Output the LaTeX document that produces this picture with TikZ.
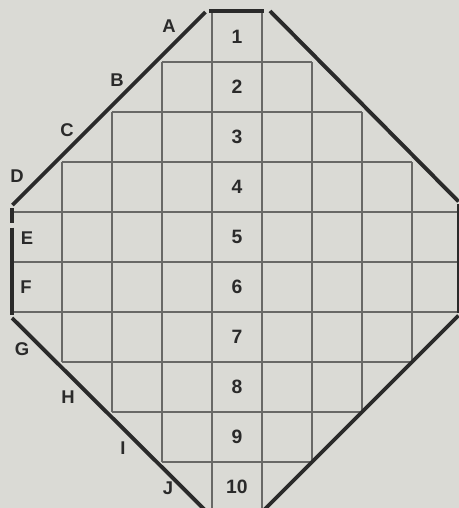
\documentclass[tikz,border=0pt]{standalone}
\usepackage{fontspec}
\setsansfont{Liberation Sans}
\definecolor{paper}{HTML}{DADAD5}
\definecolor{ink}{HTML}{2A2A2A}
\definecolor{rule}{HTML}{686866}
\tikzset{
  edge/.style={ink, line width=2.2pt},
  gridline/.style={rule, line width=0.7pt},
  rowno/.style={font=\sffamily\bfseries\fontsize{11}{13}\selectfont, text=ink, inner sep=0pt},
  sidelbl/.style={font=\sffamily\bfseries\fontsize{10.5}{12}\selectfont, text=ink, inner sep=0pt},
}

\begin{document}
\begin{tikzpicture}

% Paper, sized like the scan (cut off on the right and at the bottom).
\fill[paper] (-4.74,0.24) rectangle (4.44,-9.92);
\useasboundingbox (-4.74,0.24) rectangle (4.44,-9.92);

% Grid: horizontal rules, widest through the middle rows.
\foreach \r/\w in {1/1.5,2/2.5,3/3.5,7/3.5,8/2.5,9/1.5} {
  \draw[gridline] (-\w,-\r) -- (\w,-\r);
}
\foreach \r in {4,5,6} {
  \draw[gridline] (-4.5,-\r) -- (4.43,-\r);
}
% Grid: vertical rules, shorter the further out.
\foreach \j in {1,...,4} {
  \pgfmathsetmacro{\u}{\j-0.5}
  \draw[gridline] (-\u,1-\j) -- (-\u,\j-11);
  \draw[gridline] (\u,1-\j) -- (\u,\j-11);
}

% Outline, drawn as separate strokes.
\draw[edge] (-0.56,0.02) -- (0.54,0.02);
\draw[edge] (-0.63,0) -- (-4.49,-3.86);
\draw[edge] (0.66,0.02) -- (4.43,-3.79);
\draw[edge] (-4.5,-3.92) -- (-4.5,-4.21);
\draw[edge] (-4.5,-4.31) -- (-4.5,-6.06);
\draw[edge] (4.43,-3.84) -- (4.43,-6.02);
\draw[edge] (-4.5,-6.12) -- (-0.64,-9.96);
\draw[edge] (4.43,-6.07) -- (0.54,-9.96);

% Row numbers down the middle column.
\foreach \r in {1,...,10} {
  \node[rowno] (row\r) at (0,0.5-\r) {\r};
}

% Letters along the left side.
\foreach \l/\x/\y in {A/-1.36/-0.28, B/-2.40/-1.36, C/-3.40/-2.36, D/-4.40/-3.28,
    E/-4.20/-4.52, F/-4.22/-5.50, G/-4.30/-6.74, H/-3.38/-7.70, I/-2.28/-8.72, J/-1.38/-9.52} {
  \node[sidelbl] (side\l) at (\x,\y) {\l};
}

\end{tikzpicture}
\end{document}
